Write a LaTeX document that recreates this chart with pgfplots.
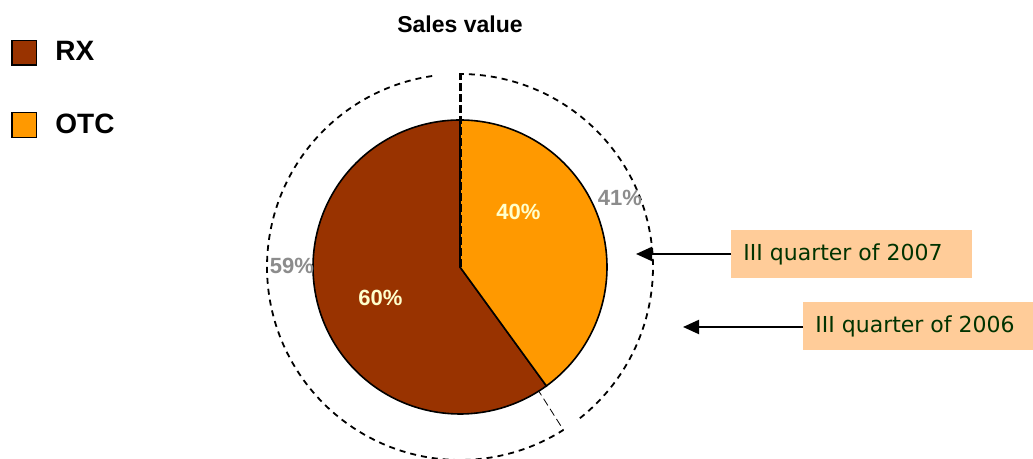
\documentclass[border=0pt]{standalone}
\usepackage{pgfplots}
\pgfplotsset{compat=1.18}
\usepackage{fontspec}
\setmainfont{Liberation Sans}
\newfontfamily\verd{DejaVu Sans}
\usetikzlibrary{arrows.meta}
\definecolor{rx}{RGB}{153,51,0}
\definecolor{otc}{RGB}{255,153,0}
\definecolor{peach}{RGB}{255,204,153}
\definecolor{dgreen}{RGB}{0,51,0}
\definecolor{lab}{RGB}{255,255,204}
\definecolor{glab}{RGB}{140,140,140}
% data: III quarter 2007 (inner), III quarter 2006 (outer)
\def\rxA{60}\def\otcA{40}
\def\rxB{59}\def\otcB{41}
\begin{document}
\begin{tikzpicture}
\pgfmathsetmacro\cutA{90-3.6*\otcA}
\pgfmathsetmacro\cutB{90-3.6*\otcB}
\pgfmathsetmacro\rxAlo{\cutA-3.6*\rxA}
\pgfmathsetmacro\otcBend{\cutB+6}
\pgfmathsetmacro\rxBstart{\cutB-3.6*\rxB+8.3}
\begin{axis}[
  width=516.5pt, height=229.5pt, scale only axis,
  xmin=0, xmax=1033, ymin=0, ymax=459,
  hide axis,
  legend cell align=left,
  legend style={at={(axis cs:5,424)}, anchor=north west, draw=none, fill=none,
    font=\bfseries\fontsize{14}{16}\selectfont, row sep=23pt,
    nodes={inner sep=1pt}},
  legend image code/.code={\draw[#1,draw=black,line width=0.6pt,solid] (0pt,-6.2pt) rectangle (12.4pt,6.2pt);},
]
\path (axis cs:0,0) rectangle (axis cs:1033,459);
% outer ring (2006)
\addplot[forget plot, draw=black, line width=0.9pt, dash pattern=on 3pt off 2.5pt, domain=\otcBend:90, samples=100, variable=\t]
  ({460+193*cos(t)},{192+193*sin(t)});
\addplot[forget plot, draw=black, line width=0.9pt, dash pattern=on 3pt off 2.5pt, domain=\rxBstart:\cutB, samples=150, variable=\t]
  ({460+193*cos(t)},{192+193*sin(t)});
\addplot[forget plot, draw=black, line width=0.4pt, dash pattern=on 4pt off 2pt] coordinates {(460,192) ({460+193*cos(\cutB)},{192+193*sin(\cutB)})};
% inner pie (2007)
\addplot[fill=rx, draw=black, line width=0.8pt, domain=\rxAlo:\cutA, samples=150, variable=\t]
  ({460+147*cos(t)},{192+147*sin(t)}) -- (axis cs:460,192) -- cycle;
\addlegendentry{\hspace{8pt}RX}
\addplot[fill=otc, draw=black, line width=0.8pt, domain=\cutA:90, samples=100, variable=\t]
  ({460+147*cos(t)},{192+147*sin(t)}) -- (axis cs:460,192) -- cycle;
\addlegendentry{\hspace{8pt}OTC}
\addplot[forget plot, draw=black, line width=1.5pt, dash pattern=on 4pt off 1.5pt] coordinates {(460,192) (460,386)};
% labels
\node[font=\bfseries\fontsize{11}{13}\selectfont, text=lab] at (axis cs:518.5,247) {\otcA\%};
\node[font=\bfseries\fontsize{11}{13}\selectfont, text=lab] at (axis cs:380.5,161.5) {\rxA\%};
\node[font=\bfseries\fontsize{11}{13}\selectfont, text=glab] at (axis cs:620,261) {\otcB\%};
\node[font=\bfseries\fontsize{11}{13}\selectfont, text=glab] at (axis cs:292,193) {\rxB\%};
\node[font=\bfseries\fontsize{11.5}{13}\selectfont] at (axis cs:460,435) {Sales value};
% callouts
\fill[peach] (axis cs:731,181) rectangle (axis cs:972,229);
\node[anchor=west, inner sep=0pt, text=dgreen, font=\verd\fontsize{11}{13}\selectfont] at (axis cs:743,205) {III quarter of 2007};
\draw[line width=1pt, -{Triangle[length=8pt,width=7pt]}] (axis cs:731,205) -- (axis cs:636,205);
\fill[peach] (axis cs:803,109) rectangle (axis cs:1033,157);
\node[anchor=west, inner sep=0pt, text=dgreen, font=\verd\fontsize{11}{13}\selectfont] at (axis cs:815,133) {III quarter of 2006};
\draw[line width=1pt, -{Triangle[length=8pt,width=7pt]}] (axis cs:803,132) -- (axis cs:683,132);
\end{axis}
\end{tikzpicture}
\end{document}
